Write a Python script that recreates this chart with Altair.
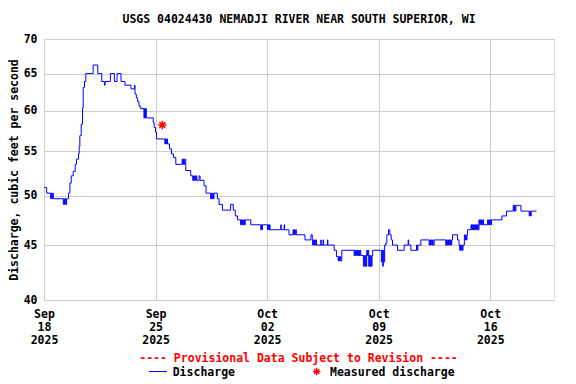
import altair as alt
import pandas as pd

TITLE = "USGS 04024430 NEMADJI RIVER NEAR SOUTH SUPERIOR, WI"
Y_TITLE = "Discharge, cubic feet per second"
FOOTER = "---- Provisional Data Subject to Revision ----"
LEGEND_LINE = "Discharge"
LEGEND_POINT = "Measured discharge"
START = "2025-09-18T00:00:00"
END = "2025-10-20T00:00:00"

# (hours since Sep 18 00:00, discharge cfs), step series
RISE = [
    (0, 50.9), (4, 50.3),
    (10, 49.7), (11, 50.3), (12, 49.7), (13, 50.3), (14, 49.7),
    (29, 49.1), (30, 49.7), (31, 49.1), (32, 49.7), (33, 49.1), (34, 49.7),
    (37, 50.3), (39, 51.4), (41, 52.2), (44, 52.7), (47, 53.5), (49, 54.1),
    (52, 54.7), (53, 55.6), (54, 56.9), (56, 58.3), (58, 60.4), (59, 63.1),
    (61, 63.9), (63, 65.0),
]
PEAK = [
    (74, 66.2), (81, 65.0), (87, 63.9), (91, 63.4), (92, 63.9), (100, 65.0),
    (106, 63.9), (110, 65.0), (116, 63.9), (122, 63.4), (131, 62.9),
    (136.5, 63.4), (137, 62.2), (139, 61.7), (141, 61.2), (143, 60.6),
    (145.5, 60.3),
    (150.5, 59.1), (151.5, 60.3), (152.5, 59.1), (153.3, 60.3), (154, 59.1),
    (164.5, 58.5), (166, 57.9), (168, 57.3), (169.5, 56.5),
    (182, 55.9), (183, 56.5), (184, 55.9), (185, 56.5), (186, 55.9),
    (189, 55.3), (192, 54.7), (195, 54.3), (198.5, 53.5),
    (208, 54.1), (209, 53.5), (210, 54.1), (211, 53.5), (212, 54.1),
]
RECESSION = [
    (213.5, 52.8), (221, 52.2),
    (224, 51.7), (225, 52.2), (226, 51.7), (227, 52.2), (228, 51.7),
    (229, 52.2), (230, 51.7),
    (233.5, 52.2), (235, 51.7), (241, 51.1), (244, 50.3),
    (251, 49.7), (252, 50.3), (253, 49.7), (254, 50.3), (255, 49.7), (256, 50.3),
    (261, 49.7), (263.6, 49.1), (268.7, 48.5), (281, 49.1), (285, 48.5),
    (288, 47.9), (291.3, 47.5),
    (296, 47.0), (297, 47.5), (298, 47.0), (299, 47.5), (300, 47.0),
    (301, 47.5), (302, 47.0), (303, 47.5),
    (311.4, 47.0),
    (326.4, 46.5), (327.4, 47.0), (328.4, 46.5), (329, 47.0),
    (336.5, 46.5), (337.5, 47.0), (338.5, 46.5), (339.5, 47.0), (340.5, 46.5),
    (356.6, 47.0), (357.3, 46.5), (361.6, 47.0), (362.3, 46.5),
    (369, 46.0),
    (375, 46.5), (376, 46.0), (377, 46.5), (378, 46.0), (379, 46.5), (380, 46.0),
]
LOW = [
    (393, 45.5), (402, 46.0), (404, 45.5),
    (404.5, 45.0), (405.5, 45.5), (406.5, 45.0), (407.5, 45.5), (408.5, 45.0),
    (409.5, 45.5), (410.3, 45.0),
    (416.8, 45.5), (417.5, 45.0), (420.3, 45.5), (421, 45.0),
    (426.8, 45.5), (427.5, 45.0),
    (437, 44.5), (440.4, 43.9),
    (443, 43.5), (444, 43.9), (445, 43.5), (446, 43.9), (447, 43.5),
    (448.4, 44.5),
    (467, 44.0), (468, 44.5), (469, 44.0), (470, 44.5), (471, 44.0),
    (472, 44.5), (473, 44.0), (474, 44.5), (475, 44.0), (476, 44.5), (477, 44.0),
    (481, 43.0), (482, 44.0), (483, 43.0), (484, 44.0), (485, 43.0),
    (486, 44.5), (487, 44.0), (488, 44.5),
    (489, 43.0), (490, 44.0), (491, 43.0), (492, 44.0), (493, 43.0), (494, 44.0),
    (495, 44.5),
    (508, 43.4), (509, 44.5), (510, 43.0), (511, 44.5), (512, 43.4), (513, 45.0),
]
RISE2 = [
    (514.8, 45.2), (516.3, 46.0), (518.8, 46.5), (520.8, 46.0), (522.8, 45.5),
    (524.8, 45.0), (532.3, 44.5), (542.4, 45.0), (548.4, 45.5), (549.2, 45.0),
    (552.4, 44.5), (561, 45.0), (562, 44.5), (563, 45.0), (567.5, 45.5),
    (580, 45.0), (581, 45.5), (582, 45.0), (583, 45.5), (584, 45.0),
    (585, 45.5), (586, 45.0), (587.6, 45.5),
    (605, 45.0), (606, 45.5), (607, 45.0), (608, 45.5), (609, 45.0),
    (610, 45.5), (611, 45.0), (612, 45.5), (613, 45.0), (614, 45.5),
    (615.2, 46.0), (622.7, 45.5),
    (625, 45.0), (626, 44.5), (627, 45.0), (628, 44.5), (629, 45.0),
    (630, 44.5), (631, 45.0),
    (633, 46.0), (634, 45.5), (635, 46.0), (636, 45.5), (637, 46.0),
    (637.8, 46.5),
]
LATE = [
    (643, 47.0), (644, 46.5), (645, 47.0), (646, 46.5), (647, 47.0),
    (648, 46.5), (649, 47.0), (650, 46.5), (651, 47.0), (652, 46.5),
    (653, 47.0), (654, 46.5),
    (655, 47.5), (656, 47.0), (657, 47.5), (658, 47.0), (659, 47.5),
    (660, 47.0), (661, 47.5), (662, 47.0), (663, 47.0),
    (668, 47.5), (669, 47.0), (670, 47.5), (671, 47.0), (672, 47.5),
    (673, 47.0), (674, 47.5),
    (675.4, 47.5), (689.5, 47.9), (696.5, 48.4),
    (706.6, 49.0), (707.6, 48.4), (708.6, 49.0), (709.6, 48.4), (710.6, 49.0),
    (718.2, 48.4),
    (730.7, 47.9), (731.7, 48.4), (732.7, 47.9), (733.7, 48.4),
    (741.7, 48.4),
]

MEAS_TIME = ["2025-09-25T10:10:00"]
MEAS_CFS = [58.2]

X_TICKS = [(9, 18), (9, 25), (10, 2), (10, 9), (10, 16)]
Y_TICKS = [40, 45, 50, 55, 60, 65, 70]

FONT = "DejaVu Sans Mono"
FS = 11.5
BLUE = "#0000ff"
RED = "#ff0000"
ASTERISK = "M-1,0L1,0M0,-1L0,1M-0.7,-0.7L0.7,0.7M-0.7,0.7L0.7,-0.7"

pairs = RISE + PEAK + RECESSION + LOW + RISE2 + LATE
t0 = pd.Timestamp(START)
flow = pd.DataFrame({
    "time": [(t0 + pd.Timedelta(hours=h)).strftime("%Y-%m-%dT%H:%M:%S") for h, _ in pairs],
    "cfs": [v for _, v in pairs],
})
meas = pd.DataFrame({"time": MEAS_TIME, "cfs": MEAS_CFS})
one = pd.DataFrame({"k": [0]})

x_scale = alt.Scale(domain=[START, END])
y_scale = alt.Scale(type="log", domain=[40, 70], nice=False, zero=False)

x_axis = alt.Axis(
    title=None,
    values=[alt.DateTime(year=2025, month=m, date=d) for m, d in X_TICKS],
    labelExpr="[timeFormat(datum.value, '%b'), timeFormat(datum.value, '%d'), timeFormat(datum.value, '%Y')]",
    labelLineHeight=13, labelBaseline="top", labelPadding=8,
    ticks=False, domain=False, grid=True, gridColor="#cccccc", gridWidth=1,
    labelFont=FONT, labelFontSize=FS, labelFontWeight="bold", labelColor="black",
    labelOverlap=False, labelFlush=False,
)
y_axis = alt.Axis(
    title=Y_TITLE, values=Y_TICKS, format="d",
    ticks=False, domain=False, grid=True, gridColor="#cccccc", gridWidth=1,
    labelFont=FONT, labelFontSize=FS, labelFontWeight="bold", labelColor="black",
    labelPadding=7, labelOverlap=False, labelFlush=False,
    titleFont=FONT, titleFontSize=FS, titleFontWeight="bold", titleColor="black",
    titleX=-30, titleY=130.5, titleAngle=-90, titleAlign="center", titleBaseline="middle",
)

line = alt.Chart(flow).mark_line(
    interpolate="step-after", color=BLUE, strokeWidth=1
).encode(
    x=alt.X("time:T", scale=x_scale, axis=x_axis),
    y=alt.Y("cfs:Q", scale=y_scale, axis=y_axis),
)

points = alt.Chart(meas).mark_point(
    shape=ASTERISK, size=72, filled=False, color=RED, strokeWidth=1.5, opacity=1
).encode(
    x=alt.X("time:T", scale=x_scale),
    y=alt.Y("cfs:Q", scale=y_scale),
)

footer = alt.Chart(one).mark_text(
    text=FOOTER, font=FONT, fontSize=FS, fontWeight="bold", color=RED,
    align="center", baseline="middle",
).encode(x=alt.value(254.5), y=alt.value(319.5))

leg_rule = alt.Chart(one).mark_rule(color=BLUE, strokeWidth=1).encode(
    x=alt.value(105), x2=alt.value(123), y=alt.value(332.5)
)
leg_text1 = alt.Chart(one).mark_text(
    text=LEGEND_LINE, font=FONT, fontSize=FS, fontWeight="bold", color="black",
    align="left", baseline="middle",
).encode(x=alt.value(128.7), y=alt.value(333.5))
leg_point = alt.Chart(one).mark_point(
    shape=ASTERISK, size=56, filled=False, color=RED, strokeWidth=1.3, opacity=1
).encode(x=alt.value(272.7), y=alt.value(332.5))
leg_text2 = alt.Chart(one).mark_text(
    text=LEGEND_POINT, font=FONT, fontSize=FS, fontWeight="bold", color="black",
    align="left", baseline="middle",
).encode(x=alt.value(286), y=alt.value(333.5))

chart = alt.layer(
    line, points, footer, leg_rule, leg_text1, leg_point, leg_text2
).properties(
    width=510, height=261,
    padding={"left": 36, "top": 31, "right": 14, "bottom": 80},
    autosize=alt.AutoSizeParams(type="none"),
    title=alt.TitleParams(
        TITLE, font=FONT, fontSize=FS, fontWeight="bold", color="black",
        anchor="middle", frame="group", offset=8,
    ),
).configure_view(
    stroke="black", strokeWidth=1.5
).configure(background="white")

chart.save("out.html", embed_options={"renderer": "svg", "actions": False})
